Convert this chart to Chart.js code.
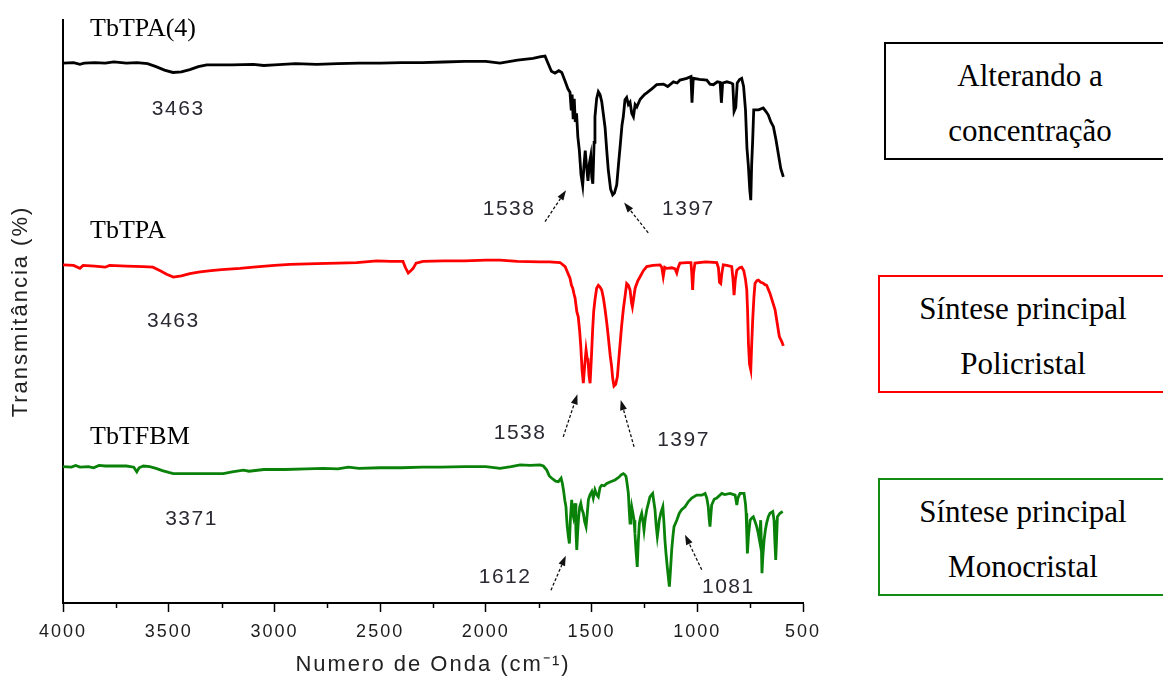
<!DOCTYPE html>
<html>
<head>
<meta charset="utf-8">
<title>Espectros FTIR</title>
<script src="https://cdn.jsdelivr.net/npm/chart.js@4.4.1/dist/chart.umd.min.js"></script>
<style>
    body { margin: 0; background: #fff; }
    #wrap { position: relative; width: 1163px; height: 680px; overflow: hidden; }
    .note {
        position: absolute;
        box-sizing: border-box;
        height: 118px;
        padding-top: 4px;
        font-family: "Liberation Serif", "Times New Roman", serif;
        font-size: 31px;
        line-height: 55px;
        text-align: center;
        color: #000;
        background: #fff;
    }
</style>
</head>
<body>
<div id="wrap">
    <canvas id="irChart" width="1163" height="680"></canvas>
    <div class="note" style="left:884px; top:42px; width:292px; border:2px solid #000;">Alterando a<br>concentração</div>
    <div class="note" style="left:878px; top:275px; width:290px; border:2.5px solid #ff0000;">Síntese principal<br>Policristal</div>
    <div class="note" style="left:878px; top:478px; width:290px; border:2px solid #138a13;">Síntese principal<br>Monocristal</div>
</div>
<script>
// wavenumber (cm-1), transmittance (offset, arbitrary units)
const tbtpa4 = [
    [4000, 92.6], [3950, 92.7], [3920, 92.4], [3900, 92.6], [3850, 92.7], [3800, 92.6], [3760, 92.8], [3700, 92.6],
    [3650, 92.7], [3600, 92.5], [3560, 92.0], [3520, 91.4], [3480, 91.0], [3440, 91.1], [3400, 91.5], [3360, 92.0],
    [3320, 92.3], [3200, 92.3], [3100, 92.4], [3050, 92.2], [3000, 92.3], [2900, 92.5], [2800, 92.4], [2700, 92.5],
    [2600, 92.6], [2500, 92.6], [2400, 92.7], [2300, 92.7], [2200, 92.8], [2100, 92.9], [2000, 92.9], [1933, 92.6],
    [1850, 93.1], [1777, 93.4], [1740, 93.7], [1720, 93.8], [1705, 92.5], [1690, 91.2], [1673, 90.9], [1655, 91.3],
    [1641, 91.0], [1625, 89.5], [1612, 88.2], [1602, 87.6], [1596, 84.5], [1592, 87.2], [1587, 83.0], [1582, 86.5],
    [1577, 82.5], [1571, 84.0], [1565, 80.0], [1558, 77.7], [1550, 73.5], [1542, 71.6], [1536, 75.0], [1530, 77.6],
    [1524, 75.0], [1517, 72.4], [1510, 75.5], [1504, 76.7], [1499, 73.0], [1494, 71.9], [1488, 79.0], [1484, 83.4],
    [1476, 86.5], [1468, 87.7], [1460, 87.2], [1452, 86.0], [1443, 83.5], [1436, 81.5], [1428, 77.5], [1421, 74.3],
    [1410, 71.0], [1400, 70.0], [1392, 70.3], [1381, 71.7], [1372, 75.5], [1365, 78.3], [1356, 82.0], [1350, 83.4],
    [1342, 86.3], [1334, 86.7], [1326, 85.5], [1318, 85.9], [1310, 84.0], [1302, 83.4], [1294, 85.5], [1286, 85.1],
    [1270, 86.4], [1250, 87.2], [1239, 87.5], [1215, 88.2], [1192, 88.9], [1160, 89.0], [1140, 88.6], [1113, 89.4],
    [1095, 89.2], [1082, 89.7], [1050, 90.0], [1030, 90.3], [1025, 85.8], [1019, 90.0], [990, 89.8], [955, 89.7],
    [940, 89.0], [924, 88.9], [905, 89.4], [892, 89.3], [886, 85.8], [880, 89.2], [860, 89.4], [840, 89.2],
    [832, 89.0], [826, 84.3], [818, 85.0], [811, 89.2], [800, 89.8], [790, 90.0], [781, 88.6], [772, 84.6],
    [765, 78.0], [758, 74.8], [752, 71.0], [747, 69.1], [743, 75.0], [738, 79.4], [733, 84.6], [710, 84.6],
    [688, 84.9], [675, 84.3], [664, 83.7], [652, 82.5], [640, 81.7], [628, 79.5], [617, 77.1], [605, 74.5], [593, 73.1]
];

const tbtpa = [
    [4000, 58.0], [3950, 57.9], [3920, 57.4], [3905, 57.9], [3850, 57.8], [3800, 57.6], [3780, 57.9], [3700, 57.8],
    [3620, 57.7], [3575, 57.6], [3540, 57.0], [3510, 56.4], [3478, 55.9], [3440, 56.1], [3400, 56.5], [3352, 56.8],
    [3300, 57.0], [3250, 57.2], [3163, 57.4], [3100, 57.6], [3000, 57.9], [2926, 58.1], [2800, 58.2], [2700, 58.3],
    [2611, 58.4], [2516, 58.7], [2450, 58.6], [2392, 58.6], [2380, 57.5], [2367, 56.6], [2355, 57.0], [2344, 57.4],
    [2330, 58.3], [2297, 58.6], [2200, 58.7], [2100, 58.7], [2000, 58.8], [1933, 58.8], [1850, 58.6], [1744, 58.5],
    [1700, 58.5], [1649, 58.4], [1625, 57.7], [1602, 55.7], [1595, 54.5], [1589, 54.0], [1583, 53.0], [1578, 52.3],
    [1570, 50.0], [1563, 49.1], [1556, 46.5], [1551, 44.0], [1545, 40.0], [1539, 37.7], [1533, 40.5], [1526, 43.4],
    [1521, 42.0], [1517, 41.7], [1512, 39.0], [1507, 37.7], [1501, 42.0], [1495, 46.8], [1490, 50.0], [1484, 52.0],
    [1476, 54.0], [1468, 54.5], [1460, 54.2], [1452, 53.7], [1444, 52.3], [1436, 50.3], [1428, 48.0], [1421, 45.7],
    [1412, 42.5], [1405, 40.5], [1400, 38.5], [1394, 37.2], [1386, 37.5], [1378, 38.8], [1372, 41.5], [1365, 44.5],
    [1358, 47.5], [1350, 50.3], [1342, 52.5], [1334, 54.8], [1326, 54.5], [1318, 53.7], [1311, 51.5], [1307, 50.8],
    [1300, 52.5], [1294, 54.0], [1282, 55.2], [1270, 56.0], [1255, 57.0], [1239, 57.7], [1210, 57.9], [1176, 58.0],
    [1168, 57.6], [1161, 56.0], [1154, 57.6], [1145, 57.4], [1120, 57.5], [1105, 57.3], [1097, 56.6], [1090, 57.6],
    [1082, 58.3], [1050, 58.4], [1030, 58.4], [1026, 56.5], [1022, 53.7], [1018, 56.5], [1011, 58.3], [960, 58.5],
    [908, 58.4], [900, 57.5], [895, 55.0], [889, 54.8], [884, 56.5], [877, 58.0], [860, 57.9], [837, 57.7],
    [831, 55.5], [826, 52.8], [820, 55.5], [813, 57.1], [800, 57.5], [790, 57.6], [780, 57.0], [772, 55.5],
    [766, 53.7], [762, 50.0], [758, 44.5], [753, 41.0], [747, 40.0], [743, 44.0], [738, 48.5], [732, 52.5],
    [727, 54.8], [718, 55.3], [711, 55.4], [700, 55.0], [690, 54.9], [680, 54.6], [672, 54.5], [664, 53.8],
    [656, 53.1], [645, 51.8], [632, 50.3], [622, 48.0], [612, 45.7], [600, 44.8], [593, 44.1]
];

const tbtfbm = [
    [4000, 23.4], [3960, 23.3], [3940, 23.6], [3920, 23.3], [3880, 23.4], [3855, 23.2], [3830, 23.6], [3800, 23.5],
    [3760, 23.5], [3700, 23.5], [3665, 23.3], [3651, 22.5], [3640, 23.2], [3620, 23.5], [3590, 23.4], [3560, 23.1],
    [3530, 22.7], [3500, 22.4], [3478, 22.2], [3400, 22.2], [3300, 22.2], [3242, 22.2], [3200, 22.5], [3147, 22.8],
    [3120, 22.6], [3050, 22.9], [2950, 22.9], [2850, 23.0], [2769, 23.1], [2700, 23.0], [2650, 23.3], [2600, 23.1],
    [2500, 23.2], [2400, 23.2], [2300, 23.3], [2217, 23.3], [2100, 23.4], [2000, 23.4], [1933, 23.1], [1880, 23.4],
    [1838, 23.7], [1790, 23.6], [1744, 23.7], [1728, 23.5], [1712, 22.8], [1700, 21.8], [1688, 21.4], [1670, 20.9],
    [1657, 20.8], [1644, 21.4], [1638, 20.5], [1633, 19.4], [1626, 17.5], [1621, 16.5], [1618, 14.5], [1615, 13.1],
    [1610, 11.5], [1605, 10.2], [1600, 14.5], [1594, 17.7], [1590, 15.5], [1586, 14.8], [1582, 16.0], [1578, 17.1],
    [1574, 12.5], [1570, 9.1], [1566, 12.0], [1561, 14.8], [1556, 16.5], [1551, 17.1], [1545, 16.0], [1539, 15.4],
    [1533, 14.0], [1526, 13.1], [1520, 15.5], [1515, 17.7], [1508, 18.5], [1499, 19.1], [1492, 18.0], [1484, 19.4],
    [1476, 18.6], [1468, 18.2], [1460, 19.8], [1452, 20.2], [1440, 20.1], [1428, 20.5], [1410, 20.8], [1389, 21.1],
    [1370, 21.6], [1360, 22.0], [1350, 22.2], [1343, 22.0], [1337, 21.7], [1332, 20.5], [1326, 18.8], [1322, 16.0],
    [1318, 13.7], [1314, 15.0], [1310, 16.5], [1305, 15.5], [1299, 14.2], [1295, 12.0], [1290, 9.1], [1284, 6.2],
    [1279, 10.5], [1274, 13.7], [1268, 14.8], [1263, 15.4], [1257, 14.0], [1252, 12.5], [1246, 14.5], [1239, 16.0],
    [1232, 17.0], [1224, 18.2], [1216, 18.6], [1211, 18.8], [1206, 17.5], [1200, 16.0], [1195, 13.5], [1189, 11.4],
    [1185, 12.5], [1180, 14.2], [1172, 15.5], [1163, 16.5], [1158, 14.0], [1153, 10.8], [1148, 8.5], [1142, 6.2],
    [1137, 4.5], [1132, 2.8], [1127, 5.5], [1121, 9.1], [1115, 11.5], [1110, 13.1], [1097, 14.2], [1085, 15.4],
    [1074, 16.0], [1058, 16.5], [1042, 17.4], [1026, 18.0], [1003, 18.5], [979, 18.5], [963, 18.8], [955, 18.0],
    [948, 16.5], [944, 14.5], [940, 13.1], [936, 15.0], [932, 16.8], [920, 17.8], [908, 18.0], [884, 18.8],
    [870, 18.6], [845, 18.8], [821, 18.5], [816, 17.5], [813, 16.8], [808, 18.0], [798, 18.8], [779, 18.8],
    [772, 17.0], [769, 15.4], [766, 12.0], [763, 8.5], [758, 11.5], [750, 14.2], [742, 14.6], [735, 14.8],
    [727, 14.0], [719, 13.1], [712, 12.0], [706, 10.8], [700, 14.2], [697, 10.0], [694, 5.1], [690, 8.0],
    [684, 10.8], [678, 12.5], [672, 13.7], [664, 14.8], [656, 15.4], [643, 15.7], [640, 15.0], [637, 14.2],
    [633, 10.5], [629, 7.4], [625, 11.0], [621, 14.8], [609, 15.4], [596, 15.7]
];

const seriesNames = ["TbTPA(4)", "TbTPA", "TbTFBM"];
const seriesColors = ["#000000", "#ff0000", "#0a820a"];
const peakLabels = ["3463", "1538", "1397", "3463", "1538", "1397", "3371", "1612", "1081"];
const majorTicks = [4000, 3500, 3000, 2500, 2000, 1500, 1000, 500];
const minorTicks = [3750, 3250, 2750, 2250, 1750, 1250, 750];

// where the names / peak numbers / arrows sit, in (cm-1, T) units
const nameAnchors = [[3872, 97.3], [3872, 62.6], [3872, 27.3]];
const peakAnchors = [
    [3455, 83.7], [1890, 66.6], [1042, 66.6],
    [3478, 47.4], [1838, 28.1], [1065, 26.9],
    [3392, 13.4], [1909, 3.4], [853, 1.7]
];
// tail wn, tail T, head wn, head T
const arrows = [
    [1720, 65.4, 1621, 70.8], [1232, 63.5, 1346, 68.7],
    [1634, 28.5, 1567, 35.8], [1299, 26.8, 1362, 34.8],
    [1692, 2.2, 1622, 8.1], [979, 5.7, 1058, 11.7]
];

const toPoints = rows => rows.map(([x, y]) => ({x, y}));

// axis text is drawn a little spaced out
const spacedText = {
    id: "spacedText",
    beforeDraw(chart) {
        chart.ctx.letterSpacing = "2px";
    }
};

const annotations = {
    id: "spectrumNotes",
    afterDraw(chart) {
        const {ctx, scales: {x, y}} = chart;
        const px = v => x.getPixelForValue(v);
        const py = v => y.getPixelForValue(v);
        ctx.save();

        // minor ticks below the x axis
        ctx.strokeStyle = "#000";
        ctx.lineWidth = 1.5;
        minorTicks.forEach(v => {
            const xx = Math.round(px(v)) + 0.5;
            ctx.beginPath();
            ctx.moveTo(xx, y.bottom);
            ctx.lineTo(xx, y.bottom + 5);
            ctx.stroke();
        });

        // sample names
        ctx.letterSpacing = "0px";
        ctx.fillStyle = "#000";
        ctx.font = "26px 'Liberation Serif', 'Times New Roman', serif";
        ctx.textAlign = "left";
        ctx.textBaseline = "alphabetic";
        seriesNames.forEach((name, i) => {
            ctx.fillText(name, px(nameAnchors[i][0]), py(nameAnchors[i][1]));
        });

        // peak positions
        ctx.fillStyle = "#2a2a33";
        ctx.font = "21px 'Liberation Sans', Arial, sans-serif";
        ctx.letterSpacing = "1.5px";
        ctx.textAlign = "center";
        peakLabels.forEach((txt, i) => {
            ctx.fillText(txt, px(peakAnchors[i][0]), py(peakAnchors[i][1]));
        });
        ctx.letterSpacing = "0px";

        // dashed arrows pointing at the bands
        ctx.strokeStyle = "#111";
        ctx.fillStyle = "#111";
        arrows.forEach(([wx0, t0, wx1, t1]) => {
            const x0 = px(wx0), y0 = py(t0), x1 = px(wx1), y1 = py(t1);
            const ang = Math.atan2(y1 - y0, x1 - x0);
            const headLen = 10, headW = 3.5;
            const bx = x1 - headLen * Math.cos(ang), by = y1 - headLen * Math.sin(ang);
            ctx.lineWidth = 1.3;
            ctx.setLineDash([3, 2]);
            ctx.beginPath();
            ctx.moveTo(x0, y0);
            ctx.lineTo(bx, by);
            ctx.stroke();
            ctx.setLineDash([]);
            ctx.beginPath();
            ctx.moveTo(x1, y1);
            ctx.lineTo(bx + headW * Math.sin(ang), by - headW * Math.cos(ang));
            ctx.lineTo(bx - headW * Math.sin(ang), by + headW * Math.cos(ang));
            ctx.closePath();
            ctx.fill();
        });
        ctx.restore();
    }
};

const spectra = [tbtpa4, tbtpa, tbtfbm];

new Chart(document.getElementById("irChart"), {
    type: "line",
    data: {
        datasets: spectra.map((rows, i) => ({
            label: seriesNames[i],
            data: toPoints(rows),
            borderColor: seriesColors[i],
            borderWidth: 2.8,
            pointRadius: 0,
            tension: 0,
            fill: false
        }))
    },
    options: {
        responsive: false,
        animation: false,
        devicePixelRatio: 1,
        layout: {padding: {top: 20, right: 360, left: 0, bottom: 0}},
        plugins: {legend: {display: false}, tooltip: {enabled: false}},
        scales: {
            x: {
                type: "linear",
                reverse: true,
                min: 500,
                max: 4000,
                afterBuildTicks: scale => { scale.ticks = majorTicks.map(v => ({value: v})); },
                ticks: {
                    autoSkip: false,
                    maxRotation: 0,
                    padding: 9,
                    color: "#1c1c1c",
                    font: {family: "'Liberation Sans', Arial, sans-serif", size: 18},
                    callback: v => String(v)
                },
                grid: {drawOnChartArea: false, tickLength: 9, tickWidth: 1.5, tickColor: "#000"},
                border: {color: "#000", width: 2},
                title: {
                    display: true,
                    text: "Numero de Onda (cm⁻¹)",
                    color: "#222",
                    font: {family: "'Liberation Sans', Arial, sans-serif", size: 22},
                    padding: {top: 0, bottom: 2}
                },
                afterFit: scale => { scale.height = 77; }
            },
            y: {
                min: 0,
                max: 100,
                ticks: {display: false},
                grid: {display: false},
                border: {color: "#000", width: 2},
                title: {
                    display: true,
                    text: "Transmitância (%)",
                    color: "#222",
                    font: {family: "'Liberation Sans', Arial, sans-serif", size: 22},
                    padding: {top: 8, bottom: 0}
                },
                afterFit: scale => { scale.width = 63; }
            }
        }
    },
    plugins: [spacedText, annotations]
});
</script>
</body>
</html>
